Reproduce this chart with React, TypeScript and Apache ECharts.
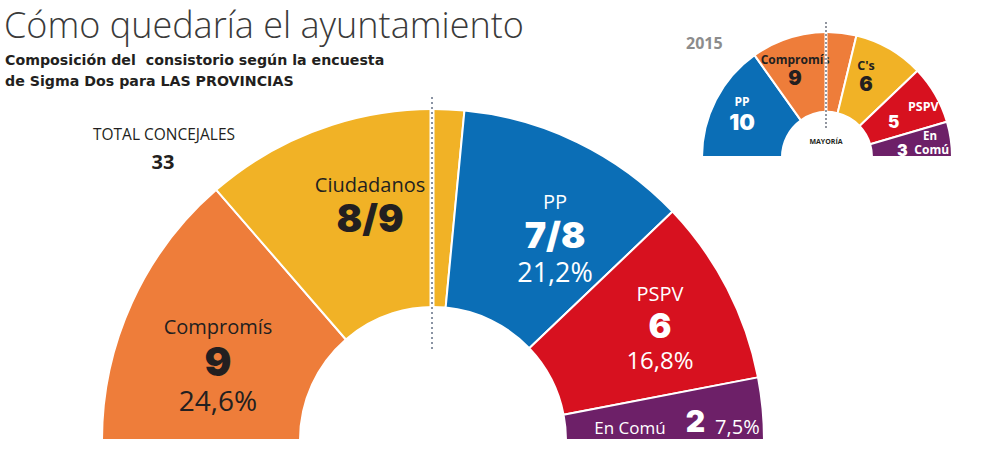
import React, { useEffect, useRef } from 'react';
import * as echarts from 'echarts';

// ---- Data (2019 poll) ----
const parties = ['Compromís', 'Ciudadanos', 'PP', 'PSPV', 'En Comú'];
const seatsMin = [9, 8, 7, 6, 2];
const seatsMax = [9, 9, 8, 6, 2];
const votePct = ['24,6%', '', '21,2%', '16,8%', '7,5%'];
const partyColors = ['#EE7D3A', '#F1B226', '#0B6EB6', '#D7111F', '#6D2068'];
const labelDark = [true, true, false, false, false];

// ---- Data (2015 result) ----
const parties2015 = ['PP', 'Compromís', "C's", 'PSPV', 'En Comú'];
const seats2015 = [10, 9, 6, 5, 3];
const colors2015 = ['#0B6EB6', '#EE7D3A', '#F1B226', '#D7111F', '#6D2068'];

const totalSeats = 33;

// ---- Layout (label anchor points) ----
const mainLabelPos: [number, number][] = [
  [218, 365],
  [370, 205],
  [555, 238],
  [660, 327],
  [677, 420],
];
const smallLabelPos: [number, number, string][] = [
  [742, 114, 'center'],
  [795, 70, 'center'],
  [866, 76, 'center'],
  [888, 115, 'left'],
  [897, 143, 'left'],
];

const FONT = '"Open Sans", "Noto Sans", sans-serif';
const HEAVY = 'Inter, Lato, "Open Sans", sans-serif';

function mainLabel(i: number) {
  const c = labelDark[i] ? '#231F20' : '#FFFFFF';
  const seatTxt = seatsMin[i] === seatsMax[i] ? `${seatsMin[i]}` : `${seatsMin[i]}/${seatsMax[i]}`;
  const big = [40, 38, 36, 34, 30][i];
  const pctSize = [28, 28, 27, 24, 20][i];
  const rich: any = {
    name: { fontFamily: FONT, fontWeight: 500, fontSize: i === 4 ? 17 : 20, color: c, lineHeight: 26 },
    num: { fontFamily: HEAVY, fontWeight: 900, fontSize: big, color: c, lineHeight: big + 4 },
    pct: { fontFamily: FONT, fontSize: pctSize, color: c, lineHeight: pctSize + 6 },
  };
  let text: string;
  if (i === 4) {
    text = `{name|${parties[i]}}{num|${seatTxt}}{pct|${votePct[i]}}`;
    rich.name.lineHeight = 22;
    rich.name.verticalAlign = 'bottom';
    rich.num.lineHeight = 32;
    rich.num.verticalAlign = 'bottom';
    rich.num.padding = [0, 10, 0, 20];
    rich.pct.lineHeight = 25;
    rich.pct.verticalAlign = 'bottom';
  } else if (votePct[i]) {
    text = `{name|${parties[i]}}\n{num|${seatTxt}}\n{pct|${votePct[i]}}`;
  } else {
    text = `{name|${parties[i]}}\n{num|${seatTxt}}`;
  }
  return { show: true, position: 'inside', formatter: text, rich };
}

function smallLabel(i: number) {
  const dark = i === 1 || i === 2;
  const c = dark ? '#231F20' : '#FFFFFF';
  const rich: any = {
    name: { fontFamily: FONT, fontWeight: 700, fontSize: i === 1 ? 12 : 12.5, color: c, lineHeight: 16 },
    num: { fontFamily: HEAVY, fontWeight: 900, fontSize: 20, color: c, lineHeight: 22 },
  };
  let text = `{name|${parties2015[i]}}\n{num|${seats2015[i]}}`;
  if (i === 0) {
    rich.name.fontSize = 12;
    rich.name.lineHeight = 16;
    rich.num.fontSize = 22;
    rich.num.lineHeight = 26;
  }
  if (i === 3) {
    rich.name.padding = [0, 0, 0, 20];
    rich.name.lineHeight = 13;
    rich.num.fontSize = 17;
    rich.num.lineHeight = 17;
  }
  if (i === 4) {
    rich.name.fontSize = 12;
    rich.name.lineHeight = 16;
    rich.first = { fontFamily: FONT, fontWeight: 700, fontSize: 11.5, color: c, lineHeight: 13, padding: [0, 0, 0, 26] };
    rich.num.fontSize = 16;
    rich.num.lineHeight = 16;
    text = `{first|En}\n{num|${seats2015[i]}}  {name|Comú}`;
  }
  return { show: true, position: 'inside', formatter: text, rich };
}

export default function App() {
  const ref = useRef<HTMLDivElement>(null);
  useEffect(() => {
    if (!ref.current) return;
    const chart = echarts.init(ref.current, undefined, { renderer: 'svg' });
    const mainData = parties.map((p, i) => ({
      name: p,
      value: (seatsMin[i] + seatsMax[i]) / 2,
      itemStyle: { color: partyColors[i] },
      label: mainLabel(i),
    }));
    const smallData = parties2015.map((p, i) => ({
      name: p,
      value: seats2015[i],
      itemStyle: { color: colors2015[i] },
      label: smallLabel(i),
    }));
    chart.setOption({
      animation: false,
      backgroundColor: '#FFFFFF',
      series: [
        {
          type: 'pie',
          center: [433, 440],
          radius: [133, 331],
          startAngle: 180,
          endAngle: 0,
          clockwise: true,
          silent: true,
          avoidLabelOverlap: false,
          itemStyle: { borderColor: '#FFFFFF', borderWidth: 2 },
          labelLine: { show: false },
          emphasis: { disabled: true },
          labelLayout: (p: any) => ({
            x: mainLabelPos[p.dataIndex][0],
            y: mainLabelPos[p.dataIndex][1],
            align: 'center',
            verticalAlign: 'middle',
          }),
          data: mainData,
        },
        {
          type: 'pie',
          center: [827, 157],
          radius: [45, 125],
          startAngle: 180,
          endAngle: 0,
          clockwise: true,
          silent: true,
          avoidLabelOverlap: false,
          itemStyle: { borderColor: '#FFFFFF', borderWidth: 2 },
          labelLine: { show: false },
          emphasis: { disabled: true },
          labelLayout: (p: any) => ({
            x: smallLabelPos[p.dataIndex][0],
            y: smallLabelPos[p.dataIndex][1],
            align: smallLabelPos[p.dataIndex][2],
            verticalAlign: 'middle',
          }),
          data: smallData,
        },
      ],
      graphic: [
        {
          type: 'text', x: 4, y: 24, z: 100,
          style: { text: 'Cómo quedaría el ayuntamiento', fontFamily: FONT, fontWeight: 300, fontSize: 36, fill: '#3A3A3A', verticalAlign: 'middle' },
        },
        {
          type: 'text', x: 5, y: 60, z: 100,
          style: {
            text: 'Composición del  consistorio según la encuesta',
            fontFamily: '"DejaVu Sans", sans-serif', fontWeight: 700, fontSize: 14.2, fill: '#231F20', verticalAlign: 'middle',
          },
        },
        {
          type: 'text', x: 5, y: 81, z: 100,
          style: {
            text: 'de Sigma Dos para LAS PROVINCIAS',
            fontFamily: '"DejaVu Sans", sans-serif', fontWeight: 700, fontSize: 14.2, fill: '#231F20', verticalAlign: 'middle',
          },
        },
        {
          type: 'text', x: 164, y: 134, z: 100,
          style: { text: 'TOTAL CONCEJALES', fontFamily: FONT, fontSize: 15.5, fill: '#231F20', align: 'center', verticalAlign: 'middle' },
        },
        {
          type: 'text', x: 163, y: 161, z: 100,
          style: { text: String(totalSeats), fontFamily: FONT, fontWeight: 700, fontSize: 20, fill: '#231F20', align: 'center', verticalAlign: 'middle' },
        },
        {
          type: 'line', z: 100,
          shape: { x1: 432, y1: 97, x2: 432, y2: 352 },
          style: { stroke: '#FFFFFF', lineWidth: 5 },
        },
        {
          type: 'line', z: 101,
          shape: { x1: 432, y1: 97, x2: 432, y2: 352 },
          style: { stroke: '#8A93A3', lineWidth: 2, lineDash: [2, 3] },
        },
        {
          type: 'text', x: 686, y: 43, z: 100,
          style: { text: '2015', fontFamily: FONT, fontWeight: 700, fontSize: 16, fill: '#8C8C8C', verticalAlign: 'middle' },
        },
        {
          type: 'line', z: 100,
          shape: { x1: 826, y1: 22, x2: 826, y2: 130 },
          style: { stroke: '#FFFFFF', lineWidth: 3 },
        },
        {
          type: 'line', z: 101,
          shape: { x1: 826, y1: 22, x2: 826, y2: 130 },
          style: { stroke: '#4A5060', lineWidth: 1.2, lineDash: [2, 2] },
        },
        {
          type: 'text', x: 826, y: 141, z: 100,
          style: { text: 'MAYORÍA', fontFamily: FONT, fontWeight: 700, fontSize: 7, fill: '#231F20', align: 'center', verticalAlign: 'middle' },
        },
      ],
    });
    return () => chart.dispose();
  }, []);
  return (
    <div
      ref={ref}
      style={{ position: 'absolute', left: 0, top: 0, width: 984, height: 468 }}
    />
  );
}
